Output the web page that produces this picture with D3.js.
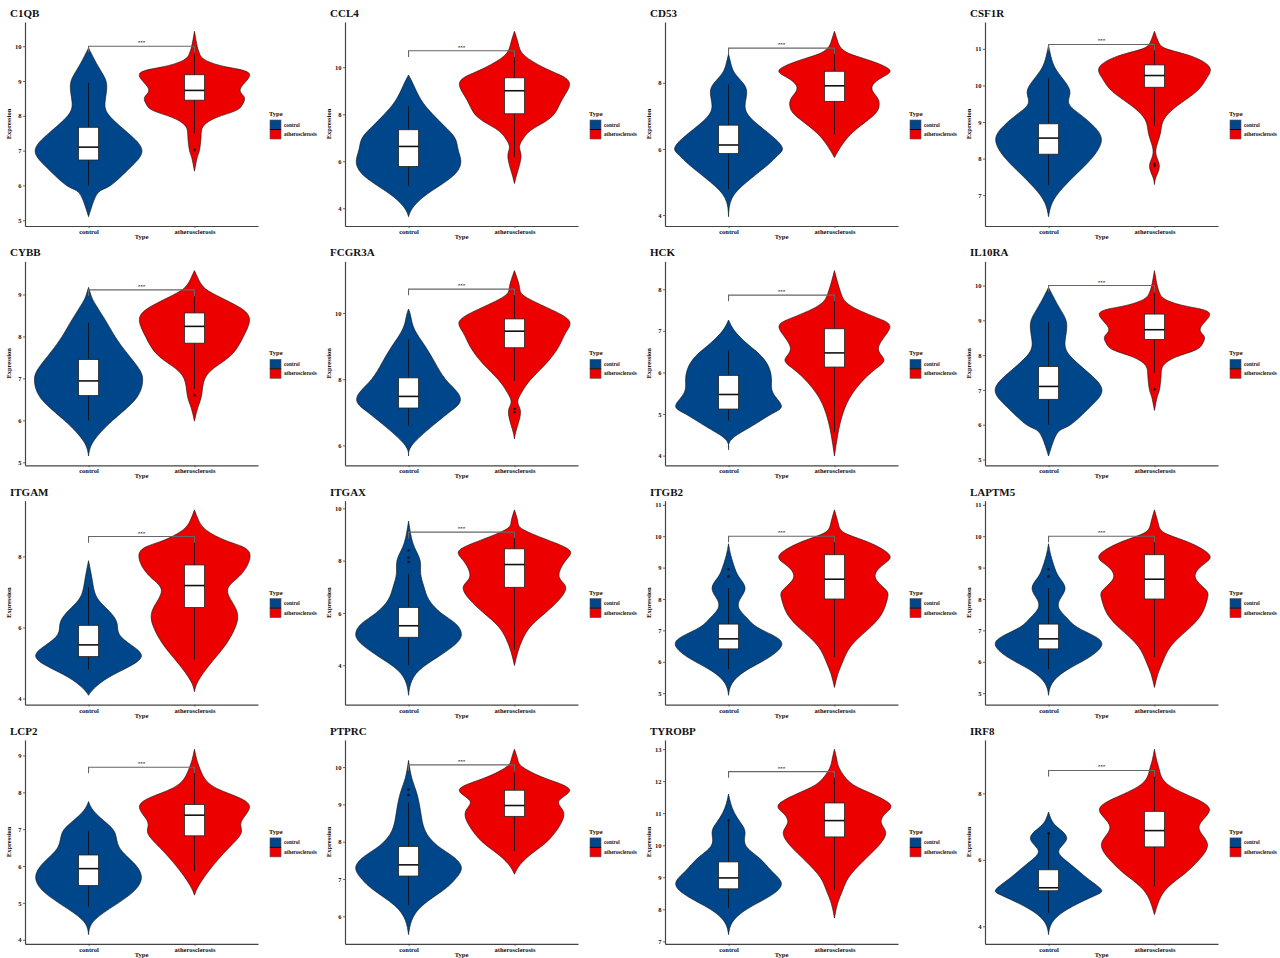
<!DOCTYPE html>
<html>
<head>
<meta charset="utf-8">
<script src="https://cdn.jsdelivr.net/npm/d3@7"></script>
<style>
  body { margin: 0; background: #fff; }
  svg { display: block; }
  text { font-family: "Liberation Serif", "Times New Roman", serif; font-weight: bold; fill: #111; }
</style>
</head>
<body>
<svg id="chart" width="1280" height="958"></svg>
<script>
const genes = ["C1QB", "CCL4", "CD53", "CSF1R", "CYBB", "FCGR3A", "HCK", "IL10RA",
               "ITGAM", "ITGAX", "ITGB2", "LAPTM5", "LCP2", "PTPRC", "TYROBP", "IRF8"];
const groups = ["control", "atherosclerosis"];
const groupColors = ["#00468B", "#ED0000"];

const yTicks = [
  [5, 6, 7, 8, 9, 10], [4, 6, 8, 10], [4, 6, 8], [7, 8, 9, 10, 11],
  [5, 6, 7, 8, 9], [6, 8, 10], [4, 5, 6, 7, 8], [5, 6, 7, 8, 9, 10],
  [4, 6, 8], [4, 6, 8, 10], [5, 6, 7, 8, 9, 10, 11], [5, 6, 7, 8, 9, 10, 11],
  [4, 5, 6, 7, 8, 9], [6, 7, 8, 9, 10], [7, 8, 9, 10, 11, 12, 13], [4, 6, 8]
];

// height of the significance bracket (***)
const signifY = [10.0, 10.7, 9.05, 11.12, 9.11, 10.72, 7.86, 10.0,
                 8.56, 9.09, 10.0, 10.0, 8.68, 10.06, 12.3, 8.69];

// violin outlines: [expression, relative density]
const controlViolin = [
  [[5.10,0],[5.4,0.06],[5.8,0.18],[6.0,0.4],[6.5,0.75],[7.0,0.97],[7.5,0.72],[8.0,0.38],[8.4,0.3],[8.9,0.33],[9.3,0.22],[9.7,0.08],[9.95,0]],
  [[3.64,0],[4.0,0.07],[4.5,0.28],[5.0,0.59],[5.5,0.86],[6.0,0.95],[6.5,0.9],[7.0,0.84],[7.5,0.65],[8.0,0.44],[8.5,0.26],[9.0,0.14],[9.4,0.06],[9.67,0]],
  [[3.95,0],[4.5,0.06],[5.0,0.33],[5.5,0.7],[5.8,0.89],[6.0,0.98],[6.3,0.85],[6.7,0.56],[7.0,0.37],[7.3,0.3],[7.7,0.33],[8.0,0.26],[8.3,0.11],[8.6,0.04],[8.87,0]],
  [[6.41,0],[6.8,0.07],[7.2,0.26],[7.6,0.52],[8.0,0.78],[8.5,0.96],[8.9,0.81],[9.2,0.58],[9.5,0.37],[9.8,0.39],[10.1,0.3],[10.4,0.15],[10.7,0.06],[11.09,0]],
  [[5.15,0],[5.5,0.09],[6.0,0.44],[6.5,0.85],[6.9,0.98],[7.2,0.93],[7.6,0.7],[8.0,0.48],[8.4,0.3],[8.8,0.11],[9.0,0.04],[9.17,0]],
  [[5.68,0],[6.0,0.06],[6.5,0.37],[7.0,0.74],[7.3,0.93],[7.6,0.89],[8.0,0.67],[8.5,0.48],[9.0,0.3],[9.5,0.11],[9.9,0.04],[10.12,0]],
  [[4.14,0],[4.4,0.06],[4.7,0.41],[5.0,0.78],[5.2,0.96],[5.5,0.81],[5.8,0.78],[6.1,0.74],[6.4,0.59],[6.7,0.33],[7.0,0.11],[7.26,0]],
  [[5.10,0],[5.4,0.06],[5.8,0.18],[6.0,0.4],[6.5,0.75],[7.0,0.97],[7.5,0.72],[8.0,0.38],[8.4,0.3],[8.9,0.33],[9.3,0.22],[9.7,0.08],[9.95,0]],
  [[4.09,0],[4.3,0.11],[4.6,0.37],[4.9,0.74],[5.2,0.96],[5.5,0.78],[5.8,0.56],[6.1,0.52],[6.4,0.41],[6.7,0.22],[7.0,0.11],[7.4,0.06],[7.88,0]],
  [[2.85,0],[3.3,0.04],[3.8,0.19],[4.3,0.52],[4.8,0.85],[5.2,0.96],[5.6,0.85],[6.0,0.59],[6.5,0.37],[7.0,0.28],[7.5,0.22],[8.0,0.21],[8.5,0.11],[9.0,0.04],[9.51,0]],
  [[4.93,0],[5.3,0.06],[5.7,0.3],[6.1,0.7],[6.5,0.96],[6.8,0.85],[7.1,0.52],[7.4,0.33],[7.7,0.19],[8.0,0.21],[8.35,0.3],[8.7,0.19],[9.0,0.11],[9.4,0.04],[9.76,0]],
  [[4.93,0],[5.3,0.06],[5.7,0.3],[6.1,0.7],[6.5,0.96],[6.8,0.85],[7.1,0.52],[7.4,0.33],[7.7,0.19],[8.0,0.21],[8.35,0.3],[8.7,0.19],[9.0,0.11],[9.4,0.04],[9.76,0]],
  [[4.14,0],[4.5,0.09],[4.9,0.44],[5.3,0.81],[5.7,0.96],[6.1,0.81],[6.5,0.56],[6.9,0.48],[7.2,0.3],[7.5,0.09],[7.75,0]],
  [[5.51,0],[5.9,0.06],[6.3,0.26],[6.7,0.63],[7.0,0.85],[7.3,0.96],[7.6,0.81],[7.9,0.52],[8.3,0.3],[8.8,0.22],[9.3,0.15],[9.7,0.06],[10.18,0]],
  [[7.21,0],[7.6,0.07],[8.0,0.33],[8.4,0.74],[8.8,0.96],[9.2,0.78],[9.6,0.56],[10.0,0.31],[10.4,0.3],[10.7,0.22],[11.0,0.11],[11.3,0.04],[11.6,0]],
  [[3.75,0],[4.1,0.06],[4.5,0.33],[4.9,0.81],[5.1,0.96],[5.4,0.74],[5.7,0.52],[6.0,0.3],[6.3,0.19],[6.65,0.33],[7.0,0.15],[7.25,0.04],[7.44,0]]
];

const atheroViolin = [
  [[6.41,0],[6.8,0.05],[7.0,0.09],[7.4,0.12],[7.7,0.16],[7.95,0.4],[8.15,0.75],[8.35,0.88],[8.55,0.9],[8.8,0.84],[9.2,1.0],[9.4,0.6],[9.6,0.2],[9.8,0.09],[10.0,0.05],[10.43,0]],
  [[5.05,0],[5.5,0.05],[6.2,0.12],[6.6,0.09],[7.0,0.17],[7.4,0.35],[7.9,0.68],[8.6,0.86],[9.3,1.0],[9.7,0.8],[10.0,0.52],[10.5,0.18],[11.0,0.07],[11.53,0]],
  [[5.74,0],[6.0,0.09],[6.5,0.33],[7.0,0.7],[7.3,0.81],[7.55,0.78],[7.85,0.68],[8.15,0.85],[8.4,1.0],[8.7,0.6],[8.9,0.25],[9.1,0.1],[9.3,0.05],[9.56,0]],
  [[7.29,0],[7.5,0.03],[7.8,0.09],[8.1,0.03],[8.4,0.05],[8.7,0.11],[9.0,0.15],[9.3,0.3],[9.6,0.56],[9.9,0.81],[10.2,0.95],[10.5,1.0],[10.8,0.67],[11.0,0.22],[11.2,0.07],[11.48,0]],
  [[5.98,0],[6.3,0.06],[6.6,0.13],[7.0,0.19],[7.3,0.41],[7.6,0.7],[8.0,0.89],[8.4,1.0],[8.7,0.81],[9.0,0.37],[9.2,0.15],[9.4,0.06],[9.57,0]],
  [[6.2,0],[6.5,0.04],[7.0,0.11],[7.3,0.06],[7.6,0.13],[8.0,0.3],[8.5,0.59],[9.0,0.81],[9.4,0.93],[9.75,1.0],[10.1,0.67],[10.5,0.19],[10.8,0.09],[11.28,0]],
  [[3.99,0],[4.5,0.06],[5.0,0.15],[5.5,0.33],[6.0,0.67],[6.3,0.9],[6.6,0.8],[7.05,1.0],[7.3,0.8],[7.6,0.3],[7.9,0.12],[8.2,0.05],[8.45,0]],
  [[6.41,0],[6.8,0.05],[7.0,0.09],[7.4,0.12],[7.7,0.16],[7.95,0.4],[8.15,0.75],[8.35,0.88],[8.55,0.9],[8.8,0.84],[9.2,1.0],[9.4,0.6],[9.6,0.2],[9.8,0.09],[10.0,0.05],[10.43,0]],
  [[4.19,0],[4.5,0.07],[5.0,0.3],[5.5,0.56],[6.0,0.74],[6.5,0.76],[7.05,0.6],[7.5,0.85],[8.1,1.0],[8.4,0.65],[8.7,0.25],[9.0,0.08],[9.31,0]],
  [[3.99,0],[4.5,0.06],[5.0,0.15],[5.5,0.3],[6.0,0.56],[6.5,0.81],[7.0,0.93],[7.4,0.81],[8.0,0.93],[8.4,1.0],[8.8,0.59],[9.2,0.15],[9.5,0.06],[9.94,0]],
  [[5.18,0],[5.6,0.06],[6.0,0.15],[6.5,0.3],[7.0,0.59],[7.5,0.85],[8.0,0.96],[8.3,0.93],[8.7,0.74],[9.1,0.89],[9.4,1.0],[9.8,0.63],[10.1,0.19],[10.4,0.07],[10.84,0]],
  [[5.18,0],[5.6,0.06],[6.0,0.15],[6.5,0.3],[7.0,0.59],[7.5,0.85],[8.0,0.96],[8.3,0.93],[8.7,0.74],[9.1,0.89],[9.4,1.0],[9.8,0.63],[10.1,0.19],[10.4,0.07],[10.84,0]],
  [[5.21,0],[5.5,0.09],[6.0,0.33],[6.5,0.63],[6.9,0.85],[7.2,0.85],[7.6,1.0],[7.9,0.74],[8.2,0.3],[8.6,0.11],[8.9,0.04],[9.17,0]],
  [[7.13,0],[7.4,0.11],[7.7,0.33],[8.0,0.59],[8.4,0.81],[8.8,0.89],[9.1,0.81],[9.4,1.0],[9.7,0.56],[10.0,0.15],[10.2,0.06],[10.48,0]],
  [[7.73,0],[8.2,0.06],[8.6,0.15],[9.0,0.26],[9.5,0.52],[10.0,0.81],[10.4,0.93],[10.7,0.85],[11.0,0.93],[11.3,1.0],[11.7,0.56],[12.0,0.26],[12.4,0.09],[12.7,0.04],[13.0,0]],
  [[4.35,0],[4.8,0.09],[5.2,0.26],[5.6,0.56],[6.0,0.81],[6.5,0.96],[7.0,0.81],[7.5,1.0],[7.9,0.67],[8.3,0.22],[8.7,0.09],[9.0,0.04],[9.33,0]]
];

// boxplot stats: [whisker low, q1, median, q3, whisker high]
const controlBox = [
  [6.0,6.73,7.1,7.67,8.95], [4.95,5.78,6.63,7.34,8.35], [4.78,5.86,6.12,6.72,7.95], [7.27,8.12,8.56,8.95,10.2],
  [6.0,6.59,6.94,7.45,8.33], [6.6,7.13,7.48,8.04,9.2], [4.85,5.12,5.47,5.93,6.53], [6.0,6.73,7.1,7.67,8.95],
  [4.82,5.18,5.51,6.06,7.13], [4.0,5.07,5.51,6.21,7.5], [5.76,6.41,6.73,7.2,8.35], [5.76,6.41,6.73,7.2,8.35],
  [4.9,5.47,5.93,6.3,6.96], [6.3,7.08,7.38,7.87,9.05], [8.04,8.64,8.98,9.48,10.74], [4.4,5.07,5.16,5.7,6.78]
];
const atheroBox = [
  [7.5,8.45,8.73,9.18,9.78], [6.18,8.02,9.0,9.55,10.42], [6.44,7.44,7.91,8.35,9.0], [8.9,9.95,10.27,10.56,11.09],
  [6.75,7.84,8.24,8.56,8.95], [7.95,8.95,9.45,9.82,10.55], [4.56,6.13,6.47,7.05,7.78], [7.5,8.45,8.73,9.18,9.78],
  [5.1,6.56,7.18,7.76,8.49], [4.59,6.98,7.85,8.45,9.09], [6.15,8.0,8.63,9.41,9.81], [6.15,8.0,8.63,9.41,9.81],
  [5.86,6.82,7.38,7.67,8.59], [7.75,8.68,8.97,9.38,9.85], [8.6,10.26,10.77,11.32,12.25], [5.2,6.39,6.88,7.46,8.5]
];

const controlOutliers = [[], [], [], [], [], [], [], [], [], [7.95, 8.11, 8.39], [8.72, 8.95], [8.72, 8.95], [], [9.25, 9.4], [10.78], [6.8]];
const atheroOutliers = [[7.02], [], [], [7.8, 7.85], [6.6], [7.0, 7.1], [], [7.02], [], [], [], [], [], [], [], []];

const svg = d3.select("#chart");
const panelW = 320, panelH = 239.3;
const plot = { left: 25, right: 258, top: 22, bottom: 226 };
const axisColor = "#444";

genes.forEach((gene, i) => {
  const col = i % 4, row = Math.floor(i / 4);
  const g = svg.append("g")
    .attr("transform", "translate(" + col * panelW + "," + row * panelH + ")");

  const violins = [controlViolin[i], atheroViolin[i]];
  const boxes = [controlBox[i], atheroBox[i]];
  const outliers = [controlOutliers[i], atheroOutliers[i]];

  // y range like ggplot: data range + 5% each side
  const lo = d3.min(violins, v => v[0][0]);
  const hi = Math.max(d3.max(violins, v => v[v.length - 1][0]), signifY[i]);
  const pad = (hi - lo) * 0.05;

  const y = d3.scaleLinear().domain([lo - pad, hi + pad]).range([plot.bottom, plot.top]);
  const x = d3.scalePoint().domain(groups).range([plot.left, plot.right]).padding(0.6);
  const w = d3.scaleLinear().domain([0, 1]).range([0, x.step() * 0.52]);
  const boxHalf = x.step() * 0.095;

  // title
  g.append("text").attr("x", 10).attr("y", 17)
    .attr("font-size", 11).text(gene);

  // violins
  groups.forEach((grp, k) => {
    const cx = x(grp);
    const area = d3.area()
      .curve(d3.curveNatural)
      .y(d => y(d[0]))
      .x0(d => cx - w(d[1]))
      .x1(d => cx + w(d[1]));
    g.append("path")
      .datum(violins[k])
      .attr("d", area)
      .attr("fill", groupColors[k])
      .attr("stroke", "#111")
      .attr("stroke-width", 0.6);
  });

  // boxplots
  groups.forEach((grp, k) => {
    const cx = x(grp), b = boxes[k];
    g.append("line")
      .attr("x1", cx).attr("x2", cx)
      .attr("y1", y(b[0])).attr("y2", y(b[4]))
      .attr("stroke", "#111").attr("stroke-width", 0.9);
    g.append("rect")
      .attr("x", cx - boxHalf).attr("width", boxHalf * 2)
      .attr("y", y(b[3])).attr("height", y(b[1]) - y(b[3]))
      .attr("fill", "#fff").attr("stroke", "#222").attr("stroke-width", 0.8);
    g.append("line")
      .attr("x1", cx - boxHalf).attr("x2", cx + boxHalf)
      .attr("y1", y(b[2])).attr("y2", y(b[2]))
      .attr("stroke", "#111").attr("stroke-width", 1.6);
    g.selectAll(null)
      .data(outliers[k])
      .join("circle")
      .attr("cx", cx).attr("cy", d => y(d))
      .attr("r", 1.3).attr("fill", "#111");
  });

  // significance bracket
  const tip = (y.domain()[1] - y.domain()[0]) * 0.03;
  const x1 = x(groups[0]), x2 = x(groups[1]);
  g.append("path")
    .attr("d", d3.line()([
      [x1, y(signifY[i] - tip)], [x1, y(signifY[i])],
      [x2, y(signifY[i])], [x2, y(signifY[i] - tip)]
    ]))
    .attr("fill", "none").attr("stroke", "#666").attr("stroke-width", 1.1);
  g.append("text")
    .attr("x", (x1 + x2) / 2).attr("y", y(signifY[i]) - 2)
    .attr("text-anchor", "middle").attr("font-size", 5).text("***");

  // axes
  const yAxis = g.append("g")
    .attr("transform", "translate(" + plot.left + ",0)")
    .call(d3.axisLeft(y).tickValues(yTicks[i]).tickFormat(d3.format("d"))
      .tickSize(2).tickSizeOuter(0).tickPadding(1.5));
  const xAxis = g.append("g")
    .attr("transform", "translate(0," + plot.bottom + ")")
    .call(d3.axisBottom(x).tickSize(2).tickSizeOuter(0).tickPadding(1.5));
  [yAxis, xAxis].forEach(a => {
    a.select(".domain").attr("stroke", axisColor).attr("stroke-width", 1.2);
    a.selectAll(".tick line").attr("stroke", axisColor).attr("stroke-width", 0.8);
    a.selectAll(".tick text")
      .attr("font-family", "Liberation Serif, serif")
      .attr("font-weight", "bold")
      .attr("font-size", 6.5).attr("fill", "#222");
  });

  // axis titles
  g.append("text")
    .attr("transform", "translate(11," + (plot.top + plot.bottom) / 2 + ") rotate(-90)")
    .attr("text-anchor", "middle").attr("font-size", 6.5).text("Expression");
  g.append("text")
    .attr("x", (plot.left + plot.right) / 2).attr("y", plot.bottom + 13)
    .attr("text-anchor", "middle").attr("font-size", 6.5).text("Type");

  // legend
  const leg = g.append("g").attr("transform", "translate(269,110)");
  leg.append("text").attr("x", 0).attr("y", 6).attr("font-size", 6.5).text("Type");
  groups.forEach((grp, k) => {
    const ky = 10 + k * 9.5;
    leg.append("rect")
      .attr("x", 1).attr("y", ky).attr("width", 11).attr("height", 9.5)
      .attr("fill", groupColors[k]).attr("stroke", "#555").attr("stroke-width", 0.6);
    leg.append("text")
      .attr("x", 15).attr("y", ky + 6.5)
      .attr("font-size", 5.2).text(grp);
  });
  leg.append("line")
    .attr("x1", 1).attr("x2", 12).attr("y1", 19.5).attr("y2", 19.5)
    .attr("stroke", "#111").attr("stroke-width", 1);
});
</script>
</body>
</html>
